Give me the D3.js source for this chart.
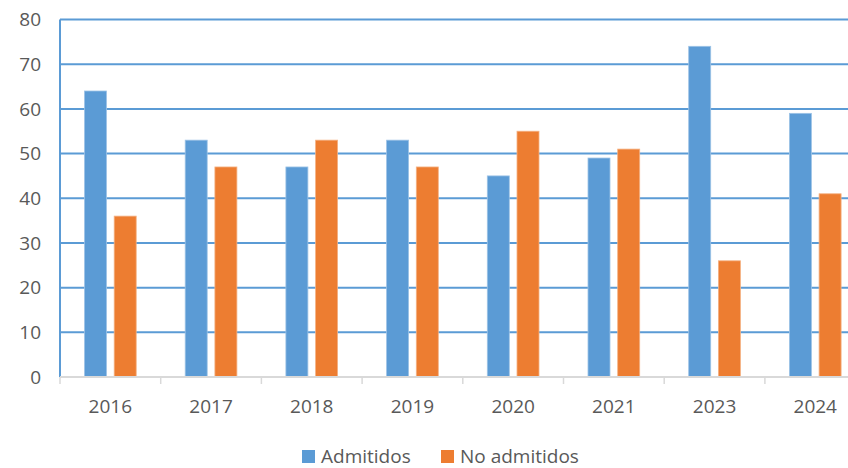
<!DOCTYPE html>
<html>
<head>
<meta charset="utf-8">
<script src="https://d3js.org/d3.v7.min.js"></script>
<style>
  body { margin: 0; background: #fff; }
  svg { display: block; font-family: "Open Sans", sans-serif; }
</style>
</head>
<body>
<div class="chart"></div>
<script>
// Chart data
const years = ['2016', '2017', '2018', '2019', '2020', '2021', '2023', '2024'];
const admitidos = [64, 53, 47, 53, 45, 49, 74, 59];
const noAdmitidos = [36, 47, 53, 47, 55, 51, 26, 41];
const seriesNames = ['Admitidos', 'No admitidos'];
const yTicks = [0, 10, 20, 30, 40, 50, 60, 70, 80];

const colors = ['#5B9BD5', '#ED7D31'];
const width = 848, height = 468;

// the plot runs past the right edge of the picture, as in the original
const plot = { left: 60, right: 865.6, top: 19.5, bottom: 377 };

const svg = d3.select('.chart')
    .append('svg')
    .attr('width', width)
    .attr('height', height);

const x = d3.scaleBand()
    .domain(years)
    .range([plot.left, plot.right]);

const y = d3.scaleLinear()
    .domain([0, 80])
    .range([plot.bottom, plot.top]);

// gridlines
svg.append('g')
    .selectAll('line')
    .data(yTicks.filter(d => d > 0))
    .enter().append('line')
    .attr('x1', plot.left)
    .attr('x2', plot.right)
    .attr('y1', d => y(d))
    .attr('y2', d => y(d))
    .attr('stroke', '#5B9BD5')
    .attr('stroke-width', 2);

// y axis line
svg.append('line')
    .attr('x1', plot.left).attr('x2', plot.left)
    .attr('y1', plot.top).attr('y2', plot.bottom)
    .attr('stroke', '#5B9BD5')
    .attr('stroke-width', 2);

// y tick labels
svg.append('g')
    .selectAll('text')
    .data(yTicks)
    .enter().append('text')
    .attr('x', 41)
    .attr('y', d => y(d))
    .attr('dy', '0.36em')
    .attr('text-anchor', 'end')
    .attr('fill', '#595959')
    .style('font-size', '19px')
    .text(d => d);

// bars
const barW = 22, gap = 7.7;
const rows = years.map((yr, i) => ({ year: yr, values: [admitidos[i], noAdmitidos[i]] }));

const groups = svg.append('g')
    .selectAll('g')
    .data(rows)
    .enter().append('g');

groups.selectAll('rect')
    .data(d => d.values.map((v, j) => ({ year: d.year, value: v, s: j })))
    .enter().append('rect')
    .attr('x', d => {
        const c = x(d.year) + x.bandwidth() / 2;
        return d.s === 0 ? c - gap / 2 - barW : c + gap / 2;
    })
    .attr('y', d => y(d.value))
    .attr('width', barW)
    .attr('height', d => y(0) - y(d.value))
    .attr('fill', d => colors[d.s])
    .attr('stroke', d => d.s === 0 ? '#9DC3E6' : '#F4B183')
    .attr('stroke-width', 0.8);

// x axis
const xAxis = svg.append('g');
xAxis.append('line')
    .attr('x1', plot.left).attr('x2', plot.right)
    .attr('y1', plot.bottom).attr('y2', plot.bottom)
    .attr('stroke', '#D9D9D9')
    .attr('stroke-width', 2);

xAxis.selectAll('.tick')
    .data(years.concat(['end']))
    .enter().append('line')
    .attr('x1', (d, i) => plot.left + i * x.step())
    .attr('x2', (d, i) => plot.left + i * x.step())
    .attr('y1', plot.bottom)
    .attr('y2', plot.bottom + 7)
    .attr('stroke', '#D9D9D9')
    .attr('stroke-width', 1.5);

xAxis.selectAll('text')
    .data(years)
    .enter().append('text')
    .attr('x', d => x(d) + x.bandwidth() / 2)
    .attr('y', 413)
    .attr('text-anchor', 'middle')
    .attr('fill', '#595959')
    .style('font-size', '19px')
    .text(d => d);

// legend
const legendX = [302, 441];
const legend = svg.append('g')
    .selectAll('g')
    .data(seriesNames)
    .enter().append('g')
    .attr('transform', (d, i) => 'translate(' + legendX[i] + ',450)');

legend.append('rect')
    .attr('width', 13)
    .attr('height', 13)
    .attr('fill', (d, i) => colors[i]);

legend.append('text')
    .attr('x', 19)
    .attr('y', 13)
    .attr('fill', '#595959')
    .style('font-size', '19px')
    .text(d => d);
</script>
</body>
</html>
